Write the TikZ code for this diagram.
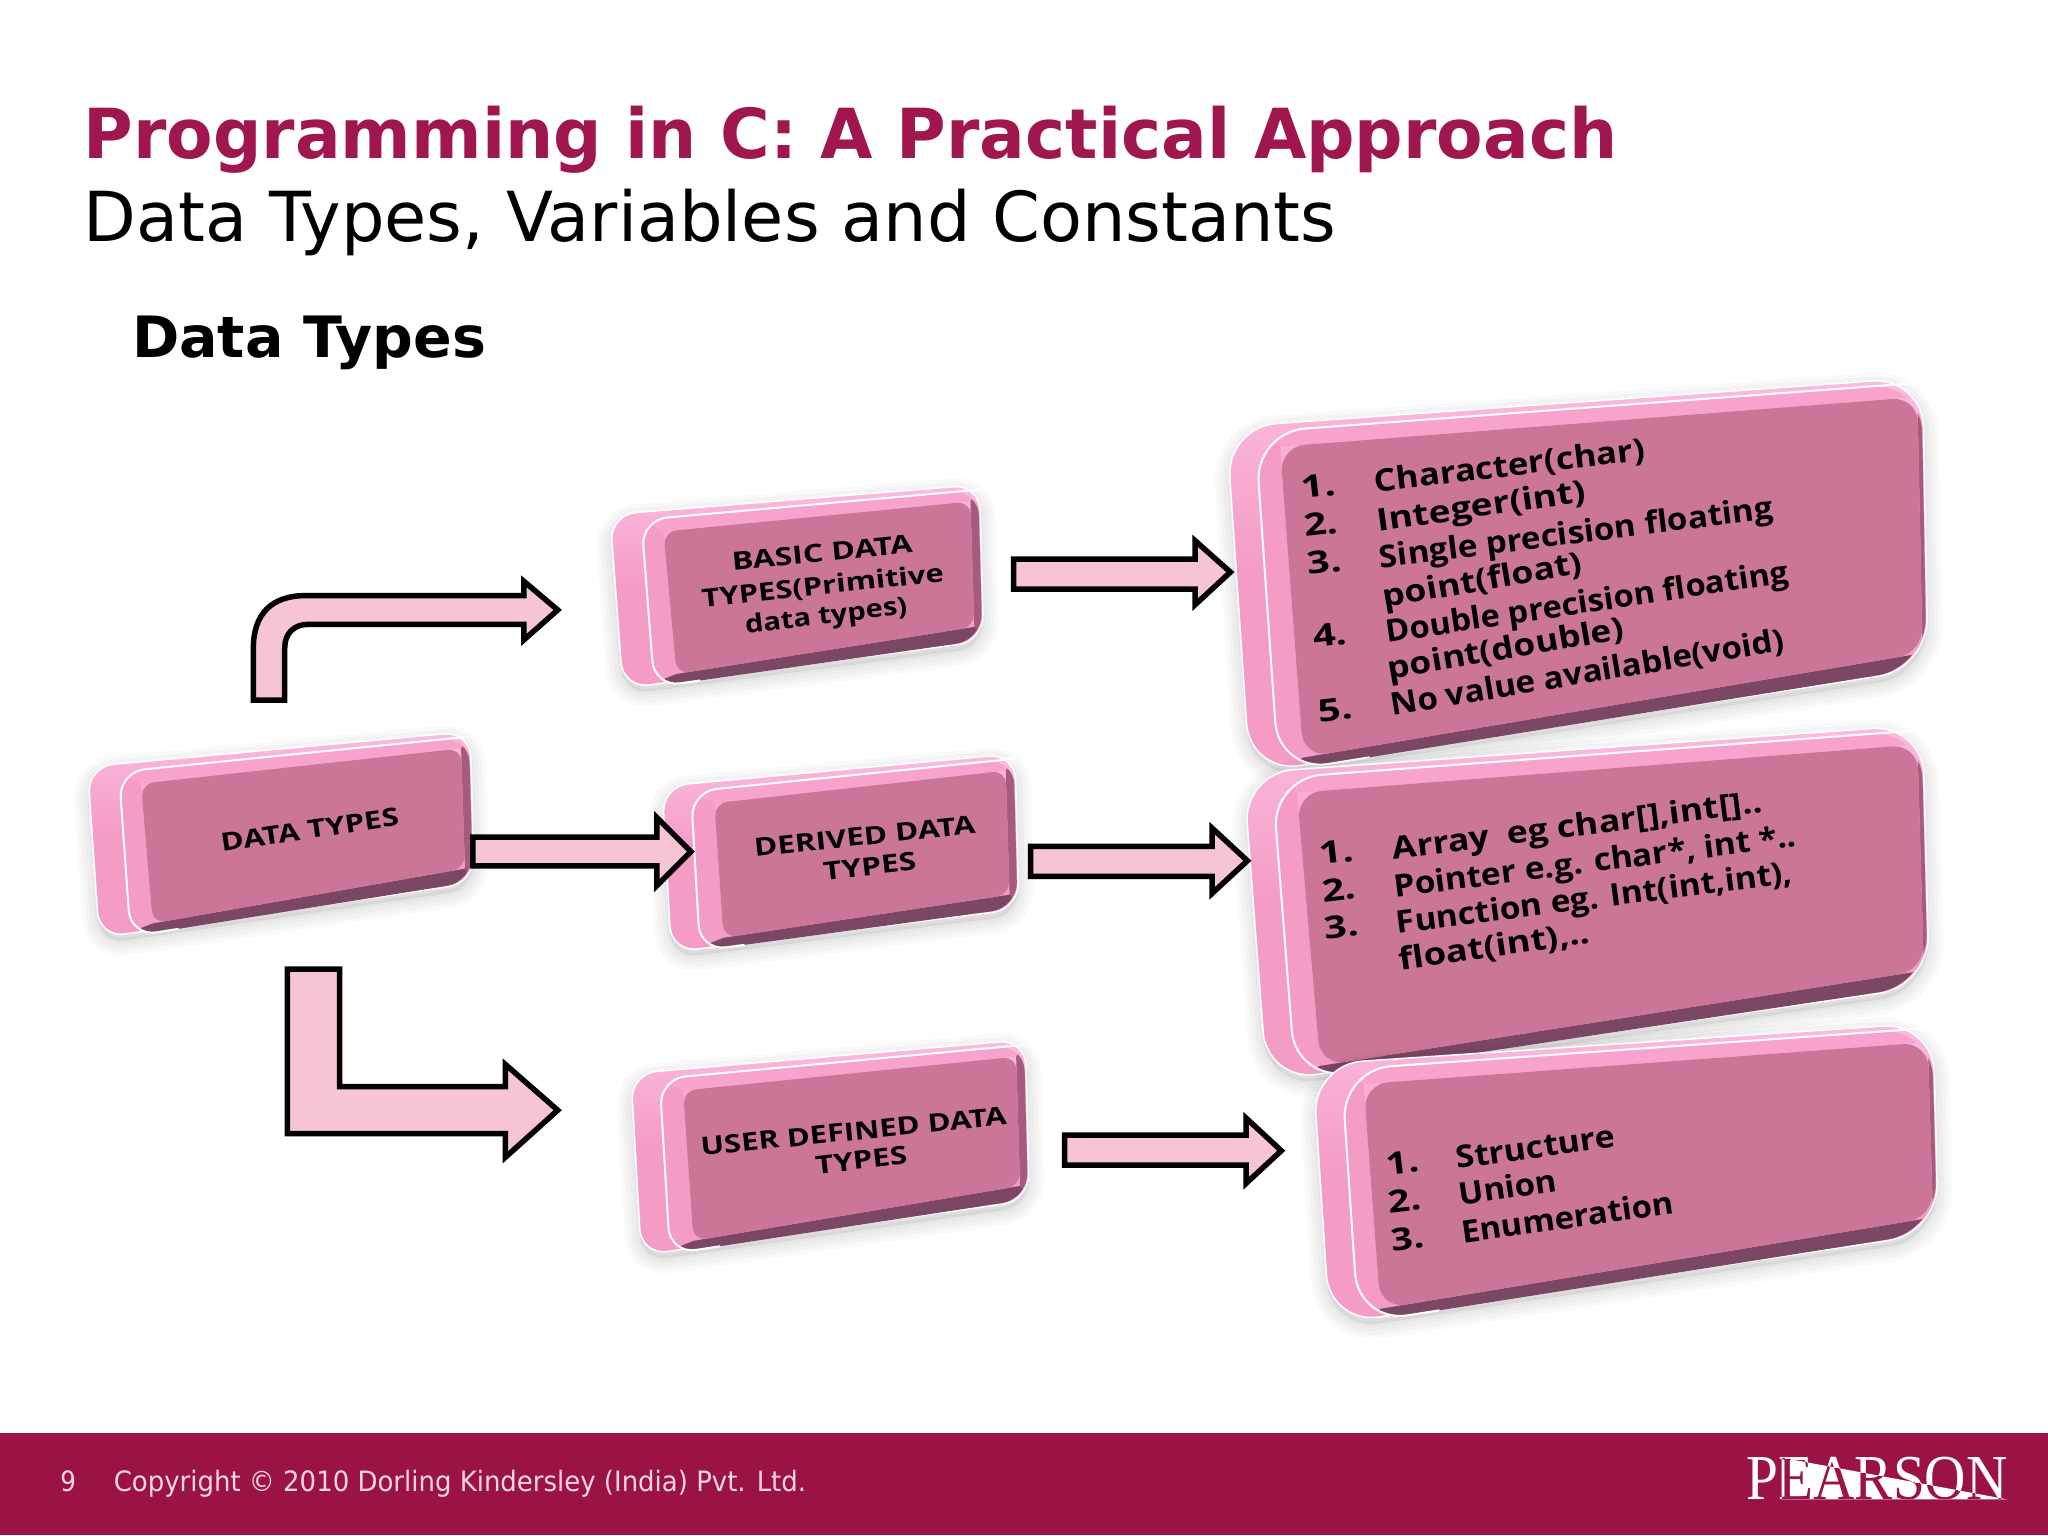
\documentclass[tikz,border=0pt]{standalone}
\usepackage{fontspec}
\usepackage{graphicx}
\usetikzlibrary{calc}
\setmainfont{DejaVu Sans}
\newfontfamily\boxfont[BoldFont={Open Sans Bold}]{Open Sans}
\newfontfamily\logofont{Liberation Serif}
\definecolor{maroon}{HTML}{9B1346}
\definecolor{titlered}{HTML}{A0174F}
\definecolor{faceP}{HTML}{CB7598}
\definecolor{sideP}{HTML}{F49BC6}
\definecolor{sideL}{HTML}{FBBBDF}
\definecolor{topP}{HTML}{F7A3CB}
\definecolor{rightP}{HTML}{A55A7E}
\definecolor{botP}{HTML}{7C4763}
\definecolor{arrowP}{HTML}{F6C3D7}
\definecolor{foot}{HTML}{F3D6E1}
\tikzset{
  blockarrow/.style={draw=black,fill=arrowP,line width=5.5pt,miter limit=6},
  small/.style={inner sep=0,anchor=base west,font=\boxfont\bfseries\fontsize{25}{25}\selectfont},
  large/.style={inner sep=0,anchor=base west,font=\boxfont\bfseries\fontsize{31}{31}\selectfont},
  plain/.style={inner sep=0,anchor=base west}
}
% name, x1,y1, x2,y2, text : a line of text laid along a baseline, fitted to its width
\newcommand\tline[7][]{%
  \pgfmathsetmacro\tang{atan2(#4-#6,#5-#3)}%
  \pgfmathsetmacro\tlen{1.30612*veclen(#5-#3,#6-#4)}%
  \node[#1,rotate=\tang] (#2) at (#3,#4) {\resizebox{\tlen pt}{\height}{#7}};}
% TL, TR, BR, BL, strip, face inset, top, right, bottom
\newcommand\slab[9]{%
  \coordinate (tl) at (#1); \coordinate (tr) at (#2);
  \coordinate (br) at (#3); \coordinate (bl) at (#4);
  \fill[black,opacity=.06,rounded corners=\rad pt,line join=round]
      ($(tl)+(0,5)$) -- ($(tr)+(0,5)$) -- ($(br)+(0,5)$) -- ($(bl)+(0,5)$) -- cycle;
  \foreach \lw in {30,22,14,6}
    \draw[black,opacity=.022,line width=\lw pt,rounded corners=\rad pt,line join=round]
      ($(tl)+(0,5)$) -- ($(tr)+(0,5)$) -- ($(br)+(0,5)$) -- ($(bl)+(0,5)$) -- cycle;
  \shade[top color=sideL,bottom color=sideP,middle color=sideP,rounded corners=\rad pt]
    (tl) -- (tr) -- (br) -- (bl) -- cycle;
  \draw[white,line width=1.5pt,rounded corners=\rad pt]
    (tl) -- (tr) -- (br) -- (bl) -- cycle;
  \coordinate (itl) at ($(tl)+(#5,4)$);
  \coordinate (itr) at ($(tr)+(-1,4)$);
  \coordinate (ibr) at ($(br)+(-1,-1)$);
  \coordinate (ibl) at ($(bl)+(#5,-1)$);
  \begin{scope}
    \clip[rounded corners=\rad pt] (itl) -- (itr) -- (ibr) -- (ibl) -- cycle;
    \coordinate (ftl) at ($(tl)+(#6,#7)$);
    \coordinate (ftr) at ($(tr)+(-#8,#7)$);
    \coordinate (fbr) at ($(br)+(-#8,-#9)$);
    \coordinate (fbl) at ($(bl)+(#6,-#9)$);
    \fill[topP] ($(tl)+(0,-5)$) -- ($(tr)+(5,-5)$) -- (ftr) -- (ftl) -- cycle;
    \fill[sideP] ($(tl)+(0,-5)$) -- (ftl) -- (fbl) -- ($(bl)+(0,5)$) -- cycle;
    \fill[rightP] ($(tr)+(5,-5)$) -- ($(br)+(5,5)$) -- (fbr) -- (ftr) -- cycle;
    \fill[botP] ($(bl)+(0,5)$) -- ($(br)+(5,5)$) -- (fbr) -- (fbl) -- cycle;
    \fill[faceP,rounded corners=.5*\rad pt] (ftl) -- (ftr) -- (fbr) -- (fbl) -- cycle;
  \end{scope}
  \draw[white,line width=2pt,rounded corners=\rad pt]
    ($(ibl)!.14!(ibr)$) -- (ibl) -- (itl) -- (itr);
}
\begin{document}
\begin{tikzpicture}[x=1.30612pt,y=-1.30612pt]
\useasboundingbox (0,0) rectangle (1568,1176);
\fill[white] (0,0) rectangle (1568,1176);
% titles
\tline[plain,font=\bfseries\fontsize{69}{69}\selectfont,text=titlered]{title}{64}{121}{1238}{121}{Programming in C: A Practical Approach}
\tline[plain,font=\fontsize{69}{69}\selectfont,text=black]{subtitle}{64}{185}{1023}{185}{Data Types, Variables and Constants}
\tline[plain,font=\bfseries\fontsize{57}{57}\selectfont,text=black]{heading}{101}{274}{372}{274}{Data Types}
% slabs
\def\rad{26}
\slab{67,587}{360,560}{363,676}{76,718}{24}{41}{13}{7}{11}
\slab{467,394}{750,371}{753,491}{477,527}{24}{41}{13}{7}{11}
\slab{507,602}{777,577}{780,696}{514,729}{22}{40}{13}{7}{11}
\slab{483,822}{785,796}{788,919}{491,961}{22}{40}{13}{7}{11}
\def\rad{50}
\slab{939,327}{1472,289}{1476,512}{957,592}{22}{41}{15}{4}{12}
\slab{952,592}{1472,555}{1477,755}{970,828}{22}{41}{15}{4}{12}
\slab{1005,815}{1480,783}{1484,944}{1018,1014}{22}{39}{15}{4}{12}
% small box text
\tline[small]{dt}{170}{652}{306}{632}{DATA TYPES}
\tline[small]{b1}{561}{437}{699}{423}{BASIC DATA}
\tline[small]{b2}{538}{465}{723}{445}{TYPES(Primitive}
\tline[small]{b3}{571}{485}{695}{470}{data types)}
\tline[small]{d1}{578}{656}{747}{638}{DERIVED DATA}
\tline[small]{d2}{631}{674}{702}{666}{TYPES}
\tline[small]{u1}{537}{885}{771}{861}{USER DEFINED DATA}
\tline[small]{u2}{625}{899}{695}{891}{TYPES}
% list text
\tline[large]{c1n}{997}{382}{1023}{379}{1.}
\tline[large]{c1}{1053}{377}{1260}{352}{Character(char)}
\tline[large]{c2n}{999}{411}{1025}{408}{2.}
\tline[large]{c2}{1055}{407}{1215}{384}{Integer(int)}
\tline[large]{c3n}{1002}{440}{1028}{437}{3.}
\tline[large]{c3}{1057}{435}{1358}{397}{Single precision floating}
\tline[large]{c3b}{1060}{465}{1212}{439}{point(float)}
\tline[large]{c4n}{1006}{496}{1032}{493}{4.}
\tline[large]{c4}{1062}{492}{1370}{446}{Double precision floating}
\tline[large]{c4b}{1064}{520}{1244}{489}{point(double)}
\tline[large]{c5n}{1010}{553}{1036}{550}{5.}
\tline[large]{c5}{1066}{548}{1367}{498}{No value available(void)}
\tline[large]{e1n}{1011}{662}{1037}{659}{1.}
\tline[large]{e1}{1067}{658}{1350}{622}{Array\ \ eg char[],int[]..}
\tline[large]{e2n}{1013}{691}{1039}{688}{2.}
\tline[large]{e2}{1068}{687}{1376}{648}{Pointer e.g. char*, int *..}
\tline[large]{e3n}{1015}{719}{1041}{716}{3.}
\tline[large]{e3}{1070}{715}{1373}{676}{Function eg. Int(int,int),}
\tline[large]{e3b}{1072}{743}{1218}{722}{float(int),..}
\tline[large]{g1n}{1062}{900}{1087}{897}{1.}
\tline[large]{g1}{1116}{895}{1237}{878}{Structure}
\tline[large]{g2n}{1064}{929}{1089}{926}{2.}
\tline[large]{g2}{1118}{923}{1193}{912}{Union}
\tline[large]{g3n}{1066}{958}{1091}{955}{3.}
\tline[large]{g3}{1120}{952}{1282}{929}{Enumeration}
% block arrows
\draw[blockarrow] (194,536) -- (194,496) .. controls (194,470) and (208,456) .. (234,456) -- (401,456)
  -- (401,445) -- (427,467) -- (401,490) -- (401,478) -- (236,478) .. controls (225,478) and (218,485) .. (218,496) -- (218,536) -- cycle;
\draw[blockarrow] (362,641) -- (503,641) -- (503,626) -- (529,652) -- (503,678) -- (503,663) -- (362,663) -- cycle;
\draw[blockarrow] (776,428) -- (915,428) -- (915,414) -- (942,438) -- (915,463) -- (915,451) -- (776,451) -- cycle;
\draw[blockarrow] (789,648) -- (928,648) -- (928,634) -- (955,659) -- (928,684) -- (928,671) -- (789,671) -- cycle;
\draw[blockarrow] (815,869) -- (954,869) -- (954,856) -- (981,881) -- (954,906) -- (954,892) -- (815,892) -- cycle;
\draw[blockarrow] (220,742) -- (260,742) -- (260,832) -- (387,832) -- (387,815) -- (427,850) -- (387,886) -- (387,868) -- (220,868) -- cycle;
% footer
\fill[maroon] (0,1097) rectangle (1568,1175);
\tline[plain,font=\fontsize{28}{28}\selectfont,text=foot]{pg}{46}{1142}{58}{1142}{9}
\tline[plain,font=\fontsize{28}{28}\selectfont,text=foot]{copy}{87}{1142}{617}{1142}{Copyright © 2010 Dorling Kindersley (India) Pvt. Ltd.}
% logo
\tline[plain,font=\logofont\fontsize{64}{64}\selectfont,text=white]{logo}{1337}{1148}{1537}{1148}{PEARSON}
\begin{scope}
  \clip (1364,1116) -- (1537,1148) -- (1364,1148) -- cycle;
  \fill[white] (1364,1116) -- (1537,1148) -- (1364,1148) -- cycle;
  \tline[plain,font=\logofont\fontsize{64}{64}\selectfont,text=maroon]{logob}{1337}{1148}{1537}{1148}{PEARSON}
\end{scope}
\end{tikzpicture}
\end{document}
